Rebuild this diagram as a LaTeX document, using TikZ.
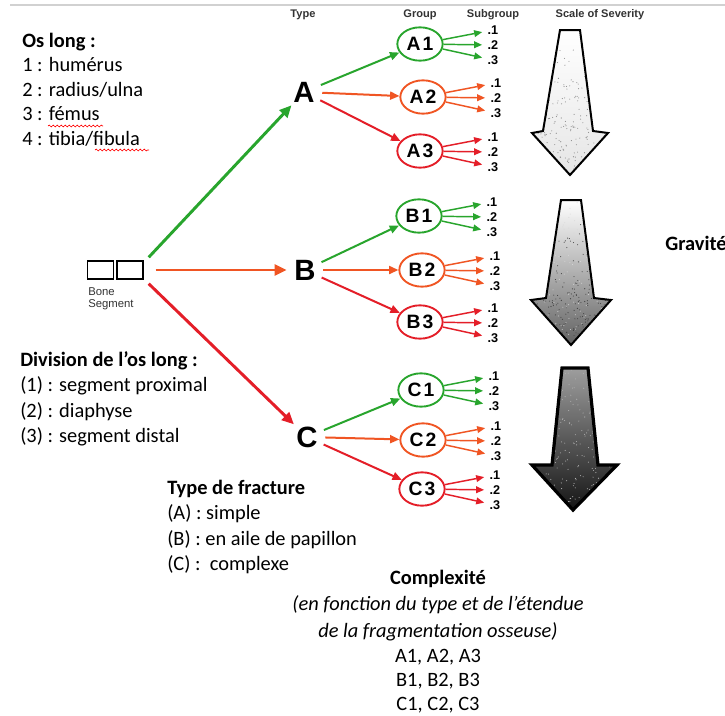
\documentclass[tikz,border=0pt]{standalone}
\usepackage{fontspec}
\setmainfont{Carlito}
\newfontfamily\arialf{Liberation Sans}
\usetikzlibrary{shapes.geometric,arrows.meta,decorations.pathmorphing,calc}
\definecolor{cgreen}{RGB}{40,165,45}
\definecolor{corange}{RGB}{240,85,35}
\definecolor{cred}{RGB}{228,30,40}
\begin{document}
\begin{tikzpicture}[x=0.75pt,y=-0.75pt,
  txt/.style={anchor=base west, inner sep=0, font=\fontsize{15.3}{17}\selectfont},
  btxt/.style={anchor=base west, inner sep=0, font=\fontsize{15.3}{17}\selectfont\bfseries},
  ctxt/.style={anchor=base, inner sep=0, font=\fontsize{15.3}{17}\selectfont},
  hdr/.style={inner sep=0, text=black!80, font=\arialf\bfseries\fontsize{8.3}{10}\selectfont},
  typ/.style={circle, minimum size=27pt, inner sep=0, font=\arialf\bfseries\fontsize{22}{24}\selectfont},
  grp/.style={ellipse, draw=#1, line width=1.4pt, minimum width=34pt, minimum height=25pt, inner sep=0, font=\arialf\bfseries\fontsize{14.5}{16}\selectfont},
  sublab/.style={inner sep=1pt, font=\arialf\bfseries\fontsize{9.5}{10}\selectfont},
  bigarr/.style={line width=2.2pt, -{Triangle[length=9pt,width=8pt]}},
  midarr/.style={line width=1.5pt, -{Triangle[length=7pt,width=6pt]}},
  subarr/.style={line width=1.1pt, shorten >=3pt, -{Triangle[length=6pt,width=5pt]}},
  seg/.style={draw, line width=1.1pt, minimum width=19.5pt, minimum height=13.5pt, inner sep=0},
  wavy/.style={draw=red, line width=0.5pt, decorate, decoration={snake, amplitude=0.7pt, segment length=3pt}},
  sev/.style={draw=black, line width=1.5pt, line join=miter}
]
\useasboundingbox (0,0) rectangle (725,715);
\fill[white] (0,0) rectangle (725,715);
\draw[black!18, line width=1.5pt] (10,5) -- (725,5);

% headers
\node[hdr] (hType) at (303,15) {Type};
\node[hdr] (hGroup) at (420,15) {Group};
\node[hdr] (hSub) at (493,15) {Subgroup};
\node[hdr] (hSev) at (600,15) {Scale of Severity};

% left texts
\node[btxt] (os) at (22,47) {Os long :};
\node[txt] (os1) at (22,71) {1 : humérus};
\node[txt] (os2) at (22,96) {2 : radius/ulna};
\node[txt] (os3) at (22,120) {3 : fémus};
\node[txt] (os4) at (22,145) {4 : tibia/fibula};
\draw[wavy] (48,126) -- (103,126);
\draw[wavy] (95,150) -- (149,150);

\node[btxt] (div) at (20,366) {Division de l’os long :};
\node[txt] (div1) at (20,391) {(1) : segment proximal};
\node[txt] (div2) at (20,417) {(2) : diaphyse};
\node[txt] (div3) at (20,442) {(3) : segment distal};

\node[btxt] (tf) at (167,494) {Type de fracture};
\node[txt] (tf1) at (167,519) {(A) : simple};
\node[txt] (tf2) at (167,545) {(B) : en aile de papillon};
\node[txt] (tf3) at (167,570) {(C) :\ \ complexe};

\node[ctxt, font=\fontsize{15.3}{17}\selectfont\bfseries] (cx) at (438,584) {Complexité};
\node[ctxt, font=\fontsize{15.3}{17}\selectfont\itshape] (cx1) at (438,610) {(en fonction du type et de l’étendue};
\node[ctxt, font=\fontsize{15.3}{17}\selectfont\itshape] (cx2) at (438,637) {de la fragmentation osseuse)};
\node[ctxt] (cx3) at (438,662) {A1, A2, A3};
\node[ctxt] (cx4) at (438,686) {B1, B2, B3};
\node[ctxt] (cx5) at (438,710) {C1, C2, C3};

\node[btxt] (grav) at (665,250) {Gravité};

% bone segment
\node[seg] (seg1) at (100.5,270) {};
\node[seg] (seg2) at (130,270) {};
\node[anchor=north west, inner sep=0, align=left, text=black!80, font=\arialf\fontsize{8.5}{9.5}\selectfont] (bonelab) at (88,287) {Bone\\Segment};
\coordinate (sA) at ($(seg2.north east)+(5,-3)$);
\coordinate (sB) at ($(seg2.east)+(12,0)$);
\coordinate (sC) at ($(seg2.south east)+(5,4)$);

% types
\node[typ] (A) at (304,92) {A};
\node[typ] (B) at (305,270) {B};
\node[typ] (C) at (307,437) {C};

\draw[bigarr, cgreen] (sA) -- (A);
\draw[bigarr, corange] (sB) -- (B);
\draw[bigarr, cred] (sC) -- (C);

% groups
\node[grp=cgreen] (A1) at (420,44) {A\kern1.5pt1};
\node[grp=corange] (A2) at (423,97) {A\kern1.5pt2};
\node[grp=cred] (A3) at (420,151) {A\kern1.5pt3};
\node[grp=cgreen] (B1) at (419,216) {B\kern1.5pt1};
\node[grp=corange] (B2) at (422,270) {B\kern1.5pt2};
\node[grp=cred] (B3) at (420,322) {B\kern1.5pt3};
\node[grp=cgreen] (C1) at (421,390) {C\kern1.5pt1};
\node[grp=corange] (C2) at (423,440) {C\kern1.5pt2};
\node[grp=cred] (C3) at (422,489) {C\kern1.5pt3};

\foreach \t in {A,B,C} {
  \draw[midarr, cgreen] (\t) -- (\t1);
  \draw[midarr, corange] (\t) -- (\t2);
  \draw[midarr, cred] (\t) -- (\t3);
}

\foreach \g/\c in {A1/cgreen,A2/corange,A3/cred,B1/cgreen,B2/corange,B3/cred,C1/cgreen,C2/corange,C3/cred} {
  \foreach \k/\dy in {1/-14,2/1,3/16} {
    \node[sublab] (\g s\k) at ($(\g)+(73,\dy)$) {.\k};
    \draw[subarr, \c] (\g) -- (\g s\k);
  }
}

% severity arrows (shaded, with stipple texture)
\pgfmathsetseed{7}
\def\arrI{(560,30) -- (580,30) -- (593,131) -- (608,133) -- (570,175) -- (532,133) -- (543,131) -- cycle}
\def\arrII{(561,200) -- (581,200) -- (594,298) -- (611,300) -- (571,345) -- (531,300) -- (546,298) -- cycle}
\def\arrIII{(562,368) -- (588,368) -- (598,465) -- (617,465) -- (573,510) -- (532,465) -- (552,465) -- cycle}
\shade[top color=white, bottom color=black!10] \arrI;
\begin{scope}
  \clip \arrI;
  \foreach \i in {1,...,260} {\fill[black!45] ({532+76*rnd},{30+145*sqrt(rnd)}) circle (0.55);}
\end{scope}
\draw[sev] \arrI;
\shade[top color=white, bottom color=black!62] \arrII;
\begin{scope}
  \clip \arrII;
  \foreach \i in {1,...,260} {\fill[black!75] ({531+80*rnd},{200+145*sqrt(rnd)}) circle (0.55);}
  \foreach \i in {1,...,160} {\fill[white!85!black] ({531+80*rnd},{200+145*rnd}) circle (0.5);}
\end{scope}
\draw[sev] \arrII;
\shade[top color=black!38, bottom color=black!92] \arrIII;
\begin{scope}
  \clip \arrIII;
  \foreach \i in {1,...,300} {\fill[white!70!black] ({532+85*rnd},{368+142*rnd}) circle (0.55);}
\end{scope}
\draw[sev, line width=2.4pt] \arrIII;
\end{tikzpicture}
\end{document}
